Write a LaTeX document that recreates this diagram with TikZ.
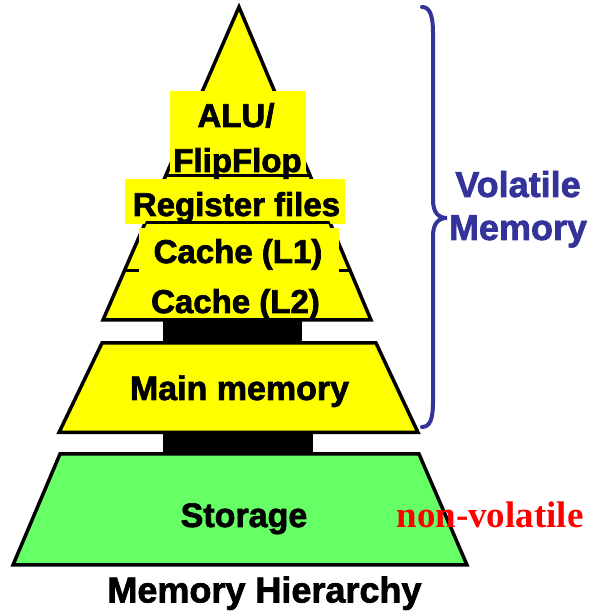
\documentclass[tikz,border=0pt]{standalone}
\usepackage{fontspec}
\setmainfont{Liberation Sans}
\newfontfamily\timesbold{Liberation Serif}
\definecolor{hlyellow}{RGB}{255,255,0}
\definecolor{storegreen}{RGB}{102,255,102}
\definecolor{bracenavy}{RGB}{51,51,153}
\definecolor{nvred}{RGB}{255,0,0}
% fill and stroke the glyphs for a heavier face
\newcommand\heavytext[1]{\special{pdf:literal direct 2 Tr 0.7 w}#1\special{pdf:literal direct 0 Tr}}
\tikzset{
  level/.style={draw=black, line width=3.5pt},
  divider/.style={draw=black, line width=3pt},
  hilite/.style={fill=hlyellow},
  bar/.style={fill=black},
  lbl/.style={font=\fontsize{33}{43}\selectfont\bfseries, anchor=base, inner sep=0pt},
  side/.style={font=\fontsize{36}{43}\selectfont\bfseries, text=bracenavy, align=center, anchor=base, inner sep=0pt},
}
\begin{document}
\begin{tikzpicture}[x=1pt,y=1pt]
\useasboundingbox (0,0) rectangle (592,616);

% connecting bars between the levels
\fill[bar] (163,273) rectangle (302,297);
\fill[bar] (163,162) rectangle (313,185);

% top triangle: registers and caches
\coordinate (tl) at (103,296);
\coordinate (tr) at (371,296);
\coordinate (tp) at (239,609);
\filldraw[level, fill=hlyellow] (tl) -- (tr) -- (tp) -- cycle;
\begin{scope}
  \clip (tl) -- (tr) -- (tp) -- cycle;
  \draw[divider] (0,345.3) -- (592,345.3);
\end{scope}

% text highlight boxes
\fill[hilite] (170,440) rectangle (306,525);
\fill[hilite] (125,392) rectangle (345,436.5);
\fill[hilite] (139.3,339) rectangle (339.3,387.7);

\begin{scope}
  \clip (tl) -- (tr) -- (tp) -- cycle;
  \draw[divider] (0,440) -- (592,440);
  \draw[divider] (0,393) -- (592,393);
\end{scope}

\node[lbl] (alu) at (236,489) {\heavytext{ALU/}};
\node[lbl] (ff) at (237.5,444) {\heavytext{FlipFlop}};
\node[lbl] (reg) at (236.5,400) {\heavytext{Register files}};
\node[lbl] (l1) at (238,353) {\heavytext{Cache (L1)}};
\node[lbl] (l2) at (235.5,303) {\heavytext{Cache (L2)}};

% main memory
\filldraw[level, fill=hlyellow] (59,183.5) -- (418,183.5) -- (376,273) -- (102,273) -- cycle;
\node[lbl, font=\fontsize{34}{43}\selectfont\bfseries] (mm) at (239.5,216) {\heavytext{Main memory}};

% storage
\filldraw[level, fill=storegreen] (13,51) -- (467,51) -- (419,162) -- (60,162) -- cycle;
\node[lbl, font=\fontsize{34}{43}\selectfont\bfseries] (st) at (244,89) {\heavytext{Storage}};
\node[anchor=base, inner sep=0pt, font=\timesbold\fontsize{37}{43}\selectfont\bfseries, text=nvred] (nv) at (490,88.5) {non-volatile};

% brace marking the volatile levels
\draw[bracenavy, line width=4pt, line cap=round]
  (422,609) .. controls (430,609) and (433,600) .. (433,583)
  -- (433,416) .. controls (433,404) and (438,398) .. (447,398)
  .. controls (438,398) and (433,392) .. (433,380)
  -- (433,214) .. controls (433,197) and (430,189) .. (422,189);
\node[side] (vol) at (518,376) {\heavytext{Volatile}\\\heavytext{Memory}};

\node[lbl, font=\fontsize{36}{43}\selectfont\bfseries] (title) at (264.5,13.5) {\heavytext{Memory Hierarchy}};
\end{tikzpicture}
\end{document}
